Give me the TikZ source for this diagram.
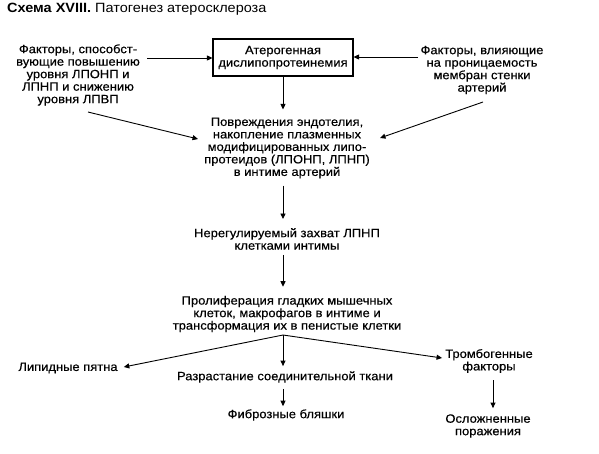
\documentclass[tikz,border=0pt]{standalone}
\usepackage{fontspec}
\setmainfont[FakeStretch=1.08,UprightFeatures={FakeBold=0.4}]{Liberation Sans}
\newfontfamily\ttlfont[FakeStretch=1.08]{Liberation Sans}
\usetikzlibrary{arrows.meta}
\begin{document}
\begin{tikzpicture}[x=1pt,y=-1pt,
  txt/.style={inner sep=0pt,align=center,font=\fontsize{12}{12.5}\selectfont},
  arr/.style={-{Triangle[length=5.5pt,width=5pt]},line width=0.9pt},
  boxed/.style={draw,line width=1.1pt,minimum width=140pt,minimum height=37pt,inner sep=0pt,align=center,font=\fontsize{12}{12.5}\selectfont}]
\useasboundingbox[fill=white] (0,0) rectangle (599,453);
\node[anchor=west,inner sep=0pt,font=\ttlfont\fontsize{13.4}{14}\selectfont] (title) at (7,9) {\textbf{Схема XVIII.} Патогенез атеросклероза};
\node[txt] (f1) at (78,75) {Факторы, способст-\\вующие повышению\\уровня ЛПОНП и\\ЛПНП и снижению\\уровня ЛПВП};
\node[boxed] (box) at (283,57.5) {Атерогенная\\дислипопротеинемия};
\node[txt] (f2) at (482,70) {Факторы, влияющие\\на проницаемость\\мембран стенки\\артерий};
\node[txt] (dmg) at (287,148) {Повреждения эндотелия,\\накопление плазменных\\модифицированных липо-\\протеидов (ЛПОНП, ЛПНП)\\в интиме артерий};
\node[txt] (cap) at (287,239) {Нерегулируемый захват ЛПНП\\клетками интимы};
\node[txt] (pro) at (287,314) {Пролиферация гладких мышечных\\клеток, макрофагов в интиме и\\трансформация их в пенистые клетки};
\node[txt] (lip) at (68,368) {Липидные пятна};
\node[txt] (con) at (285,377) {Разрастание соединительной ткани};
\node[txt] (thr) at (489,361) {Тромбогенные\\факторы};
\node[txt] (fib) at (286,415) {Фиброзные бляшки};
\node[txt] (cmp) at (488,426) {Осложненные\\поражения};
\coordinate (fan) at (283,335);
\coordinate (a1) at (147,58);
\coordinate (a2) at (418,57);
\draw[arr] (a1) -- (a1 -| box.west);
\draw[arr] (a2) -- (a2 -| box.east);
\draw[arr] (box.south -| fan) -- ([yshift=8pt]dmg.north -| fan);
\draw[arr] ([shift={(10,37)}]f1.center) -- ([shift={(-6,-9)}]dmg.west);
\draw[arr] ([shift={(1,32)}]f2.center) -- ([shift={(10,-10)}]dmg.east);
\draw[arr] ([yshift=-7pt]dmg.south -| fan) -- ([yshift=9pt]cap.north -| fan);
\draw[arr] ([yshift=-5pt]cap.south -| fan) -- ([yshift=9pt]pro.north -| fan);
\draw[arr] (fan) -- ([shift={(6,-1)}]lip.east);
\draw[arr] (fan) -- ([yshift=5pt]con.north -| fan);
\draw[arr] (fan) -- ([shift={(-3,-3)}]thr.west);
\draw[arr] ([yshift=-6pt]con.south -| fan) -- ([yshift=3pt]fib.north -| fan);
\draw[arr] ([shift={(4,7)}]thr.south) -- ([shift={(5,-6)}]cmp.north);
\end{tikzpicture}
\end{document}
